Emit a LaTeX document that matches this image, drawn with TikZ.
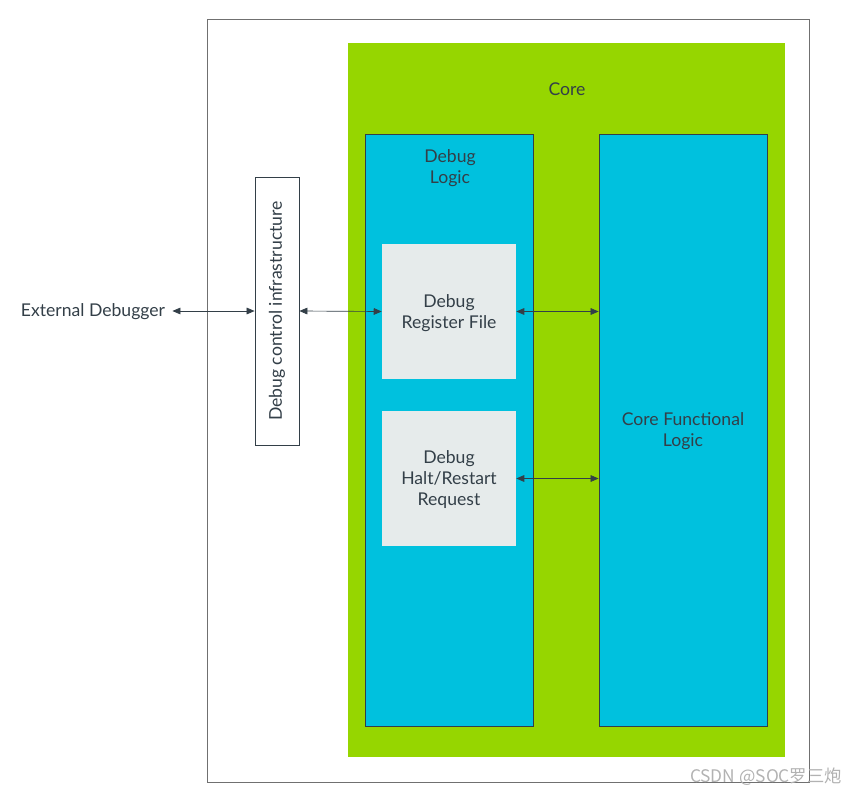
\documentclass[tikz,border=0pt]{standalone}
\usepackage{fontspec}
\setmainfont{Lato}
\newfontfamily\cjkfont{Noto Sans CJK SC}
\usetikzlibrary{arrows.meta,positioning}
\definecolor{coregreen}{HTML}{96D600}
\definecolor{logicblue}{HTML}{00C1DE}
\definecolor{regfill}{HTML}{E6EBEB}
\definecolor{ink}{HTML}{333F48}
\definecolor{framegray}{HTML}{707070}

\begin{document}
\begin{tikzpicture}[x=0.75pt,y=-0.75pt,
    every node/.style={font=\fontsize{13.2}{15.75}\selectfont,text=ink,align=center},
    logicblock/.style={draw=ink,line width=0.6pt,fill=logicblue,inner sep=0pt,
                       minimum width=126pt,minimum height=444pt},
    regblock/.style={fill=regfill,inner sep=0pt,minimum width=100.5pt,minimum height=101.25pt},
    link/.style={draw=ink,line width=0.5pt,
                 {Triangle[length=6pt,width=5pt]}-{Triangle[length=6pt,width=5pt]}}]
    \useasboundingbox (0,0) rectangle (858,796);
    % outer frame and core
    \draw[framegray,line width=0.75pt] (207,19) rectangle (809,782);
    \fill[coregreen] (348,43) rectangle (785,757);
    \node (core) at (567,89.5) {Core};
    % the two logic columns
    \node[logicblock] (dlogic) at (449,430) {};
    \node[logicblock] (cfl) at (683,430) {};
    \node (dlogictxt) at (450,168.5) {Debug\\Logic};
    \node (cfltxt) at (683,431.5) {Core Functional\\Logic};
    % boxes inside debug logic
    \node[regblock] (regfile) at (449,311.5) {};
    \node[regblock] (haltreq) at (449,478.5) {};
    \node (regtxt) at (449,313) {Debug\\Register File};
    \node (halttxt) at (449,480) {Debug\\Halt/Restart\\Request};
    % debug control infrastructure
    \node[draw=ink,line width=0.6pt,fill=white,inner sep=0pt,minimum width=33pt,minimum height=201pt]
        (dci) at (277,311) {\rotatebox{90}{Debug control infrastructure}};
    \node (ext) at (93,312) {External Debugger};
    % connectors
    \draw[link,shorten <=2pt] (ext.east |- dci.west) -- (dci.west);
    \draw[link] (dci.east) -- (regfile.west);
    \draw[link] (regfile.east) -- (cfl.west |- regfile.east);
    \draw[link] (haltreq.east) -- (cfl.west |- haltreq.east);
    % watermark
    \node[text=gray!60,font=\cjkfont\fontsize{13}{15}\selectfont] (mark) at (766,777) {CSDN @SOC罗三炮};
\end{tikzpicture}
\end{document}
